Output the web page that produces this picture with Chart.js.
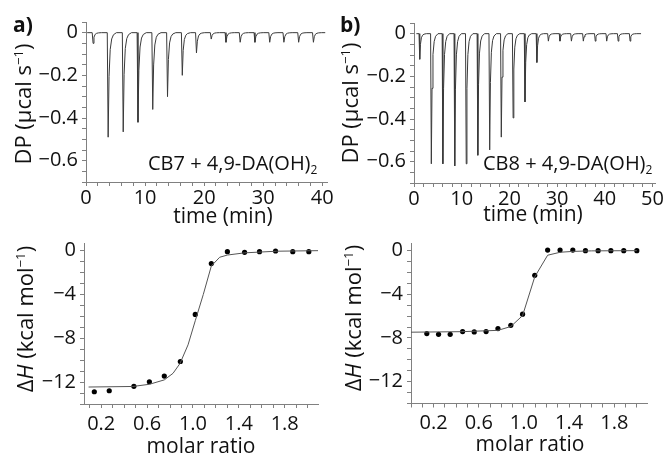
<!DOCTYPE html>
<html><head><meta charset="utf-8">
<script src="https://cdn.jsdelivr.net/npm/chart.js@4/dist/chart.umd.min.js"></script>
<style>
html,body{margin:0;padding:0;background:#fff;width:664px;height:455px;overflow:hidden;position:relative;font-family:'Open Sans',sans-serif;color:#111}
canvas{position:absolute;left:0;top:0}
.t{position:absolute;white-space:nowrap;line-height:1;font-family:'Open Sans',sans-serif;color:#111}
.c{transform:translate(-50%,-50%)}
.r{transform:translate(-50%,-50%) rotate(-90deg)}
.sup{font-size:0.6em;position:relative;top:-0.6em}
.sub{font-size:0.6em;position:relative;top:0.35em}
</style></head><body>
<canvas id="c1" width="664" height="455"></canvas>
<canvas id="c2" width="664" height="455"></canvas>
<canvas id="c3" width="664" height="455"></canvas>
<canvas id="c4" width="664" height="455"></canvas>

<div class="t" style="left:13px;top:14px;font-size:21px;font-weight:700">a)</div>
<div class="t" style="left:340px;top:14px;font-size:21px;font-weight:700">b)</div>
<div class="t r" style="left:22px;top:104px;font-size:22px">DP (μcal s<span class="sup">−1</span>)</div>
<div class="t r" style="left:349px;top:103px;font-size:22px">DP (μcal s<span class="sup">−1</span>)</div>
<div class="t c" style="left:223px;top:215px;font-size:21px">time (min)</div>
<div class="t c" style="left:533px;top:213px;font-size:21px">time (min)</div>
<div class="t" style="left:148px;top:153px;font-size:20px">CB7 + 4,9-DA(OH)<span class="sub">2</span></div>
<div class="t" style="left:483px;top:153px;font-size:20px">CB8 + 4,9-DA(OH)<span class="sub">2</span></div>
<div class="t r" style="left:24px;top:319px;font-size:22px">Δ<i>H</i> (kcal mol<span class="sup">−1</span>)</div>
<div class="t r" style="left:352px;top:318px;font-size:22px">Δ<i>H</i> (kcal mol<span class="sup">−1</span>)</div>
<div class="t c" style="left:201px;top:445px;font-size:21px">molar ratio</div>
<div class="t c" style="left:530px;top:443px;font-size:21px">molar ratio</div>

<script>
// ---- data ----
// panel a (top): CB7 + 4,9-DA(OH)2 thermogram
const injTimeA = [1.1, 3.65, 6.2, 8.7, 11.2, 13.7, 16.2, 18.6, 21.1, 23.6, 26.0, 28.5, 31.0, 33.4, 35.9, 38.4];
const peakDPA  = [-0.05, -0.49, -0.465, -0.42, -0.36, -0.30, -0.20, -0.095, -0.03, -0.045, -0.045, -0.045, -0.045, -0.045, -0.045, -0.045];
const traceSpanA = [0.2, 40.5];
// panel b (top): CB8 + 4,9-DA(OH)2 thermogram
const injTimeB = [1.1, 3.53, 5.95, 8.44, 10.85, 13.28, 15.77, 18.2, 20.68, 23.17, 25.66, 28.07, 30.5, 32.9, 35.4, 37.9, 40.3, 42.7, 45.2];
const peakDPB  = [-0.12, -0.61, -0.61, -0.62, -0.61, -0.57, -0.545, -0.485, -0.395, -0.32, -0.135, -0.035, -0.035, -0.035, -0.035, -0.035, -0.035, -0.035, -0.035];
const traceSpanB = [0.5, 47.6];
// peak profile (time after injection, fraction of peak depth)
const peakDt   = [-0.05, 0.1, 0.25, 0.45, 0.7, 1.0, 1.5];
const peakFrac = [0, 1, 0.42, 0.16, 0.06, 0.02, 0];

// panel a (bottom): integrated heats
const ratioA = [0.14, 0.27, 0.485, 0.62, 0.75, 0.89, 1.02, 1.16, 1.30, 1.45, 1.58, 1.72, 1.87, 2.01];
const dHA    = [-12.88, -12.79, -12.39, -11.97, -11.45, -10.12, -5.82, -1.18, -0.09, -0.15, -0.09, -0.03, -0.09, -0.09];
const fitRatioA = [0.09, 0.475, 0.62, 0.75, 0.826, 0.887, 0.957, 1.02, 1.09, 1.16, 1.233, 1.30, 1.45, 1.73, 2.09];
const fitDHA    = [-12.45, -12.4, -12.2, -11.8, -11.2, -10.3, -8.6, -6.4, -4.0, -1.4, -0.6, -0.4, -0.2, -0.05, 0];
// panel b (bottom)
const ratioB = [0.14, 0.244, 0.347, 0.457, 0.56, 0.665, 0.77, 0.884, 0.988, 1.096, 1.21, 1.32, 1.433, 1.545, 1.657, 1.77, 1.884, 2.0];
const dHB    = [-7.6, -7.66, -7.66, -7.41, -7.44, -7.41, -7.14, -6.84, -5.82, -2.26, 0.05, 0.05, 0.05, 0, 0, 0, 0, 0];
const fitRatioB = [0.0, 0.45, 0.77, 0.884, 0.988, 1.096, 1.21, 1.32, 1.43, 1.6, 2.0];
const fitDHB    = [-7.47, -7.42, -7.3, -6.95, -5.95, -2.4, -0.42, -0.15, -0.07, -0.02, 0];

// tick label sets
const dpTickLabels = [0, -0.2, -0.4, -0.6];
const timeTickLabelsA = [0, 10, 20, 30, 40];
const timeTickLabelsB = [0, 10, 20, 30, 40, 50];
const dHTickLabels = [0, -4, -8, -12];
const ratioTickLabels = [0.2, 0.6, 1.0, 1.4, 1.8];

// ---- build ----
function trace(times, depths, span) {
  const pts = [{x: span[0], y: 0}];
  times.forEach((t, i) => {
    peakDt.forEach((dt, k) => pts.push({x: t + dt, y: depths[i] * peakFrac[k]}));
  });
  pts.push({x: span[1], y: 0});
  return pts;
}
function pairs(xs, ys) { return xs.map((x, i) => ({x, y: ys[i]})); }
function fmt(v) { return v === 0 ? '0' : (v < 0 ? '\u2212' : '') + Math.abs(v); }
function fmtDP(v) { return v === 0 ? '0' : (v < 0 ? '\u2212' : '') + Math.abs(v).toFixed(1); }
function near(list, v) { return list.find(l => Math.abs(l - v) < 1e-6); }

const AX = '#808080';
const tickFont = {family: "'Open Sans', sans-serif", size: 20};

function axis(min, max, step, labels, f, size, isY, pad) {
  return {
    type: 'linear', min, max,
    afterFit: s => { if (isY) s.width = size; else s.height = size; },
    ticks: {
      stepSize: step, includeBounds: false, autoSkip: false, maxRotation: 0,
      font: tickFont, color: '#111', padding: pad,
      callback: v => { const m = near(labels, v); return m === undefined ? '' : f(m); }
    },
    grid: {display: true, drawOnChartArea: false, drawTicks: true, tickLength: 4, color: AX, lineWidth: 1},
    border: {display: true, color: AX, width: 1}
  };
}

function make(id, datasets, pad, xs, ys) {
  new Chart(document.getElementById(id), {
    type: 'scatter',
    data: {datasets},
    options: {
      responsive: false, animation: false, devicePixelRatio: 1,
      layout: {autoPadding: false, padding: pad},
      plugins: {legend: {display: false}, tooltip: {enabled: false}},
      scales: {x: xs, y: ys}
    }
  });
}

const traceStyle = {showLine: true, pointRadius: 0, borderColor: '#3a3a3a', borderWidth: 1, tension: 0};

// a top: area (86,22)-(327,182)
make('c1', [Object.assign({data: trace(injTimeA, peakDPA, traceSpanA)}, traceStyle)],
  {left: 0, top: 22, right: 664 - 327, bottom: 455 - 182 - 30},
  axis(0, 40.8, 2, timeTickLabelsA, fmt, 30, false, 0),
  axis(-0.7, 0.05, 0.05, dpTickLabels, fmtDP, 86, true, 4));
// b top: area (414,23)-(658,183)
make('c2', [Object.assign({data: trace(injTimeB, peakDPB, traceSpanB)}, traceStyle)],
  {left: 332, top: 23, right: 664 - 658, bottom: 455 - 183 - 30},
  axis(0, 50.6, 2, timeTickLabelsB, fmt, 30, false, 0),
  axis(-0.7, 0.05, 0.05, dpTickLabels, fmtDP, 82, true, 4));
// a bottom: area (84,243)-(318,404)
make('c3', [
    {data: pairs(fitRatioA, fitDHA), showLine: true, pointRadius: 0, borderColor: '#555', borderWidth: 1, tension: 0},
    {data: pairs(ratioA, dHA), pointRadius: 2.6, backgroundColor: '#000', borderWidth: 0}
  ],
  {left: 0, top: 243, right: 664 - 318, bottom: 455 - 404 - 30},
  axis(0.05, 2.09, 0.1, ratioTickLabels, v => v.toFixed(1), 30, false, 4),
  axis(-14, 0.7, 1, dHTickLabels, fmt, 84, true, 4));
// b bottom: area (411,243)-(647,403.5)
make('c4', [
    {data: pairs(fitRatioB, fitDHB), showLine: true, pointRadius: 0, borderColor: '#555', borderWidth: 1, tension: 0},
    {data: pairs(ratioB, dHB), pointRadius: 2.6, backgroundColor: '#000', borderWidth: 0}
  ],
  {left: 332, top: 243, right: 664 - 647, bottom: 455 - 403.5 - 30},
  axis(0.0, 2.09, 0.1, ratioTickLabels, v => v.toFixed(1), 30, false, 4),
  axis(-14, 0.7, 1, dHTickLabels, fmt, 79, true, 4));
</script>
</body></html>
